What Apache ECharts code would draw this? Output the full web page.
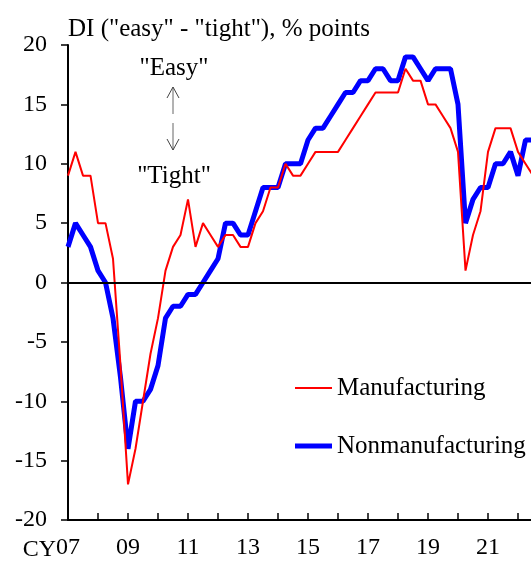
<!DOCTYPE html>
<html>
<head>
<meta charset="utf-8">
<script src="https://cdn.jsdelivr.net/npm/echarts@6/dist/echarts.min.js"></script>
<style>
  html, body { margin: 0; padding: 0; background: #fff; }
  #chart { width: 531px; height: 561px; }
</style>
</head>
<body>
<div id="chart"></div>
<script>
// quarterly, CY2007 Q1 onward
var startYear = 2007;
var manufacturing = [9, 11, 9, 9, 5, 5, 2, -7, -17, -14, -10, -6, -3, 1, 3, 4,
    7, 3, 5, 4, 3, 4, 4, 3, 3, 5, 6, 8, 8, 10, 9, 9,
    10, 11, 11, 11, 11, 12, 13, 14, 15, 16, 16, 16, 16, 18, 17, 17,
    15, 15, 14, 13, 11, 1, 4, 6, 11, 13, 13, 13, 11, 10, 9];
var nonmanufacturing = [3, 5, 4, 3, 1, 0, -3, -8, -14, -10, -10, -9, -7, -3, -2, -2,
    -1, -1, 0, 1, 2, 5, 5, 4, 4, 6, 8, 8, 8, 10, 10, 10,
    12, 13, 13, 14, 15, 16, 16, 17, 17, 18, 18, 17, 17, 19, 19, 18,
    17, 18, 18, 18, 15, 5, 7, 8, 8, 10, 10, 11, 9, 12, 12];
var yTicks = [-20, -15, -10, -5, 0, 5, 10, 15, 20];

function toPoints(arr) {
    return arr.map(function (v, i) { return [startYear + i / 4, v]; });
}

var font = 'Liberation Serif';
var chart = echarts.init(document.getElementById('chart'));
chart.setOption({
    backgroundColor: '#fff',
    animation: false,
    title: {
        text: 'DI ("easy" - "tight"), % points',
        left: 63,
        top: 12,
        textStyle: { fontFamily: font, fontSize: 25, fontWeight: 'normal', color: '#000' }
    },
    legend: [{
        data: ['Manufacturing'],
        orient: 'vertical',
        left: 295,
        top: 373,
        padding: 0,
        icon: 'rect',
        itemWidth: 37,
        itemHeight: 2,
        textStyle: { fontFamily: font, fontSize: 25, color: '#000', lineHeight: 30 }
    }, {
        data: ['Nonmanufacturing'],
        orient: 'vertical',
        left: 295,
        top: 431,
        padding: 0,
        icon: 'rect',
        itemWidth: 37,
        itemHeight: 5,
        textStyle: { fontFamily: font, fontSize: 25, color: '#000', lineHeight: 30 }
    }],
    grid: { left: 68, top: 45, width: 480, height: 475, outerBoundsMode: 'none' },
    xAxis: {
        type: 'value',
        min: 2007,
        max: 2023,
        interval: 1,
        splitLine: { show: false },
        axisLine: { onZero: false, lineStyle: { color: '#000', width: 2 } },
        axisTick: { inside: true, length: 7, lineStyle: { color: '#000', width: 1.5 } },
        axisLabel: {
            margin: 16,
            fontFamily: font,
            fontSize: 24,
            color: '#000',
            formatter: function (v) {
                if (v % 2 !== 1 || v > 2022) return '';
                return String(v).slice(2);
            }
        }
    },
    yAxis: {
        type: 'value',
        min: yTicks[0],
        max: yTicks[yTicks.length - 1],
        interval: 5,
        splitLine: { show: false },
        axisLine: { show: true, lineStyle: { color: '#000', width: 2 } },
        axisTick: { show: true, length: 7, lineStyle: { color: '#000', width: 1.5 } },
        axisLabel: { margin: 21, fontFamily: font, fontSize: 24, color: '#000' }
    },
    graphic: [
        { type: 'text', x: 56, y: 550, style: { text: 'CY', font: '24px "Liberation Serif"', fill: '#000', textAlign: 'right', textVerticalAlign: 'middle' } },
        { type: 'text', x: 174, y: 68, style: { text: '"Easy"', font: '25px "Liberation Serif"', fill: '#000', textAlign: 'center', textVerticalAlign: 'middle' } },
        { type: 'text', x: 174, y: 176, style: { text: '"Tight"', font: '25px "Liberation Serif"', fill: '#000', textAlign: 'center', textVerticalAlign: 'middle' } },
        { type: 'polyline', shape: { points: [[173, 87], [173, 114]] }, style: { stroke: '#666', lineWidth: 1 } },
        { type: 'polyline', shape: { points: [[167, 98], [173, 87], [179, 98]] }, style: { stroke: '#444', lineWidth: 1, fill: null } },
        { type: 'polyline', shape: { points: [[173, 123], [173, 150]] }, style: { stroke: '#666', lineWidth: 1 } },
        { type: 'polyline', shape: { points: [[167, 139], [173, 150], [179, 139]] }, style: { stroke: '#444', lineWidth: 1, fill: null } }
    ],
    series: [{
        name: 'Manufacturing',
        type: 'line',
        data: toPoints(manufacturing),
        showSymbol: false,
        color: '#ff0000',
        lineStyle: { color: '#ff0000', width: 2 },
        z: 3,
        markLine: {
            silent: true,
            symbol: 'none',
            label: { show: false },
            lineStyle: { color: '#000', width: 2, type: 'solid' },
            data: [{ yAxis: 0 }]
        }
    }, {
        name: 'Nonmanufacturing',
        type: 'line',
        data: toPoints(nonmanufacturing),
        showSymbol: false,
        color: '#0000ff',
        lineStyle: { color: '#0000ff', width: 5 },
        z: 2
    }]
});
</script>
</body>
</html>
